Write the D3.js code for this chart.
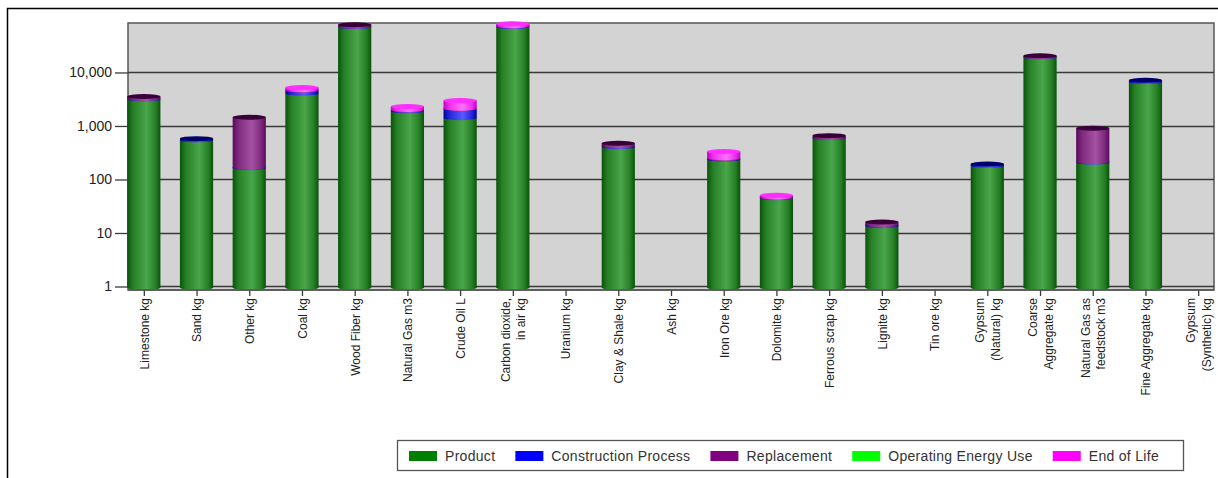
<!DOCTYPE html>
<html>
<head>
<meta charset="utf-8">
<script src="https://cdn.jsdelivr.net/npm/d3@7"></script>
<style>
  body { margin: 0; background: #fff; }
  text { font-family: "Liberation Sans", Arial, sans-serif; }
</style>
</head>
<body>
<div id="chartDiv"></div>
<script>
// Categories and stacked series (log scale)
var categories = ["Limestone kg", "Sand kg", "Other kg", "Coal kg", "Wood Fiber kg", "Natural Gas m3",
  "Crude Oil L", "Carbon dioxide, in air kg", "Uranium kg", "Clay & Shale kg", "Ash kg", "Iron Ore kg",
  "Dolomite kg", "Ferrous scrap kg", "Lignite kg", "Tin ore kg", "Gypsum (Natural) kg",
  "Coarse Aggregate kg", "Natural Gas as feedstock m3", "Fine Aggregate kg", "Gypsum (Synthetic) kg"];

var tickLabels = [["Limestone kg"], ["Sand kg"], ["Other kg"], ["Coal kg"], ["Wood Fiber kg"], ["Natural Gas m3"],
  ["Crude Oil L"], ["Carbon dioxide,", "in air kg"], ["Uranium kg"], ["Clay & Shale kg"], ["Ash kg"], ["Iron Ore kg"],
  ["Dolomite kg"], ["Ferrous scrap kg"], ["Lignite kg"], ["Tin ore kg"], ["Gypsum", "(Natural) kg"],
  ["Coarse", "Aggregate kg"], ["Natural Gas as", "feedstock m3"], ["Fine Aggregate kg"], ["Gypsum", "(Synthetic) kg"]];

var product      = [3200, 545, 166, 4100, 72000, 1900, 1430, 72000, 0, 410, 0, 240, 45.5, 600, 13.7, 0, 182, 19500, 210, 6700, 0];
var construction = [60, 35, 3, 550, 1000, 80, 700, 2000, 0, 15, 0, 5, 0.5, 10, 0.5, 0, 13, 300, 5, 440, 0];
var replacement  = [300, 0, 1290, 100, 5200, 60, 20, 500, 0, 50, 0, 10, 1, 50, 1.8, 0, 0, 700, 690, 0, 0];
var operating    = [0, 0, 0, 0, 0, 0, 0, 0, 0, 0, 0, 0, 0, 0, 0, 0, 0, 0, 0, 0, 0];
var endOfLife    = [0, 0, 0, 500, 0, 280, 830, 7000, 0, 0, 0, 80, 3.5, 0, 0, 0, 0, 0, 0, 0, 0];

var seriesNames = ["Product", "Construction Process", "Replacement", "Operating Energy Use", "End of Life"];
var yTicks = [1, 10, 100, 1000, 10000];

// colours: legend colour, then dark edge, mid, light highlight, cap
var colors = ["#008000", "#0000ff", "#800080", "#00ff00", "#ff00ff"];
var shades = [
  ["#0a520a", "#268026", "#4aa64a", "#0a3f0a"],
  ["#00009a", "#2525dd", "#5a5aff", "#00006a"],
  ["#5a0a5a", "#7e2a7e", "#a452a4", "#3a003a"],
  ["#00a000", "#10dd10", "#70ff70", "#007000"],
  ["#c000c0", "#ee30ee", "#ff70ff", "#ff30ff"]
];

// Build table for d3.stack
var keys = ["product", "construction", "replacement", "operating", "endOfLife"];
var table = categories.map(function(c, i) {
  return {name: c, product: product[i], construction: construction[i], replacement: replacement[i],
          operating: operating[i], endOfLife: endOfLife[i]};
});
var stacked = d3.stack().keys(keys)(table);

var width = 1218, height = 478;
var plot = {left: 128, right: 1214, top: 23, bottom: 290};

var svg = d3.select("#chartDiv").append("svg")
  .attr("width", width)
  .attr("height", height);

// gradients for the cylinder look
var defs = svg.append("defs");
shades.forEach(function(s, i) {
  var g = defs.append("linearGradient").attr("id", "grad" + i)
    .attr("x1", 0).attr("x2", 1).attr("y1", 0).attr("y2", 0);
  g.append("stop").attr("offset", "0%").attr("stop-color", s[0]);
  g.append("stop").attr("offset", "18%").attr("stop-color", s[1]);
  g.append("stop").attr("offset", "58%").attr("stop-color", s[2]);
  g.append("stop").attr("offset", "85%").attr("stop-color", s[1]);
  g.append("stop").attr("offset", "100%").attr("stop-color", s[0]);
});

// outer frame
svg.append("rect")
  .attr("x", 7.5).attr("y", 8.5)
  .attr("width", 1240).attr("height", 500)
  .attr("fill", "none").attr("stroke", "#000").attr("stroke-width", 1.5);

// scales
var scaleX = d3.scalePoint()
  .domain(categories)
  .range([plot.left, plot.right])
  .padding(0.3);
var barWidth = scaleX.step() * 0.63;

var scaleY = d3.scaleLog()
  .domain([0.86, 84100])
  .range([plot.bottom, plot.top]);

// plot background
svg.append("rect")
  .attr("x", plot.left).attr("y", plot.top)
  .attr("width", plot.right - plot.left).attr("height", plot.bottom - plot.top)
  .attr("fill", "#d3d3d3").attr("stroke", "#555").attr("stroke-width", 1.5);

// grid lines
svg.append("g").selectAll("line")
  .data(yTicks)
  .enter().append("line")
    .attr("x1", plot.left).attr("x2", plot.right)
    .attr("y1", function(d) { return Math.round(scaleY(d)) + 0.5; })
    .attr("y2", function(d) { return Math.round(scaleY(d)) + 0.5; })
    .attr("stroke", "#3a3a3a").attr("stroke-width", 1.3);

// y axis
var yAxis = svg.append("g")
  .attr("transform", "translate(" + plot.left + ",0)")
  .call(d3.axisLeft(scaleY).tickValues(yTicks).tickFormat(d3.format(",")).tickSize(13).tickPadding(3));
yAxis.select(".domain").remove();
yAxis.selectAll("line").attr("stroke", "#3a3a3a").attr("stroke-width", 1.3);
yAxis.selectAll("text").attr("font-size", 14).attr("fill", "#222")
  .style("font-family", "'Liberation Sans', Arial, sans-serif");

// bars: each segment as a cylinder piece, stacked from the bottom
var ry = 2.5;
var barGroup = svg.append("g");
stacked.forEach(function(layer, si) {
  barGroup.selectAll(".seg" + si)
    .data(layer.filter(function(d) { return d[1] - d[0] > 0; }))
    .enter().append("g")
    .each(function(d) {
      var g = d3.select(this);
      var x0 = scaleX(d.data.name) - barWidth / 2;
      var yTop = scaleY(d[1]);
      var yBot = d[0] > 0 ? scaleY(d[0]) : plot.bottom - ry;
      g.append("rect")
        .attr("x", x0).attr("y", yTop)
        .attr("width", barWidth).attr("height", Math.max(0, yBot - yTop))
        .attr("fill", "url(#grad" + si + ")");
      g.append("ellipse")
        .attr("cx", x0 + barWidth / 2).attr("cy", yBot)
        .attr("rx", barWidth / 2).attr("ry", ry)
        .attr("fill", "url(#grad" + si + ")");
    });
});

// top caps
table.forEach(function(row) {
  var top = -1;
  keys.forEach(function(k, i) { if (row[k] > 0) top = i; });
  if (top < 0) return;
  var total = d3.sum(keys, function(k) { return row[k]; });
  barGroup.append("ellipse")
    .attr("cx", scaleX(row.name)).attr("cy", scaleY(total))
    .attr("rx", barWidth / 2).attr("ry", ry)
    .attr("fill", shades[top][3]);
});

// x axis
var xAxis = svg.append("g")
  .attr("transform", "translate(0," + plot.bottom + ")")
  .call(d3.axisBottom(scaleX).tickSize(6).tickFormat(""));
xAxis.select(".domain").remove();
xAxis.selectAll("line").attr("stroke", "#3a3a3a").attr("stroke-width", 1.3);

svg.append("line")
  .attr("x1", plot.left).attr("x2", plot.right)
  .attr("y1", plot.bottom).attr("y2", plot.bottom)
  .attr("stroke", "#555").attr("stroke-width", 1.5);

// rotated multi-line category labels
var lineH = 15.5;
xAxis.selectAll(".tick").each(function(d, i) {
  var lines = tickLabels[i];
  var t = d3.select(this).append("text")
    .attr("transform", "rotate(-90)")
    .attr("text-anchor", "end")
    .attr("font-size", 12)
    .attr("fill", "#222");
  lines.forEach(function(l, j) {
    var off = (j - (lines.length - 1) / 2) * lineH;
    t.append("tspan")
      .attr("x", -8)
      .attr("y", off + 4.3)
      .text(l);
  });
});

// legend
var legend = svg.append("g");
legend.append("rect")
  .attr("x", 397.5).attr("y", 440.5)
  .attr("width", 786).attr("height", 30)
  .attr("fill", "#fff").attr("stroke", "#555").attr("stroke-width", 1.3);

var lx = 409;
seriesNames.forEach(function(name, i) {
  legend.append("rect")
    .attr("x", lx).attr("y", 451)
    .attr("width", 28).attr("height", 10)
    .attr("fill", colors[i]);
  var txt = legend.append("text")
    .attr("x", lx + 36).attr("y", 460.5)
    .attr("font-size", 14)
    .attr("letter-spacing", 0.3)
    .attr("fill", "#333")
    .text(name);
  lx += 36 + txt.node().getComputedTextLength() + 20;
});
</script>
</body>
</html>
